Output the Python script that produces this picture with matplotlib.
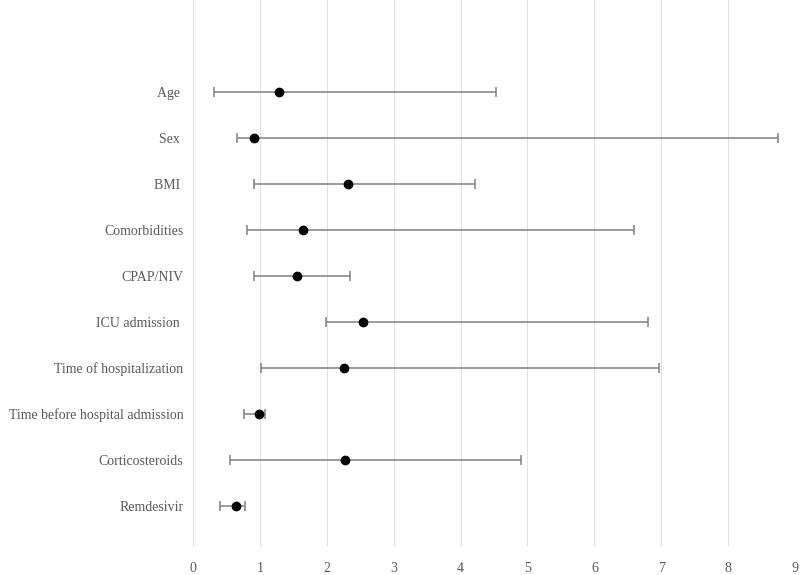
import matplotlib
matplotlib.use("Agg")
import matplotlib.pyplot as plt
import numpy as np

categories = ["Age ", "Sex ", "BMI ", "Comorbidities", "CPAP/NIV", "ICU admission ",
              "Time of hospitalization", "Time before hospital admission",
              "Corticosteroids", "Remdesivir"]
estimate = [1.29, 0.91, 2.32, 1.65, 1.55, 2.54, 2.25, 0.98, 2.27, 0.64]
lower = [0.32, 0.66, 0.91, 0.81, 0.91, 1.99, 1.02, 0.76, 0.55, 0.41]
upper = [4.53, 8.74, 4.21, 6.59, 2.34, 6.80, 6.97, 1.08, 4.90, 0.78]
xticks = [0, 1, 2, 3, 4, 5, 6, 7, 8, 9]

plt.rcParams['font.family'] = ['Liberation Serif', 'DejaVu Serif']

fig = plt.figure(figsize=(8, 5.75), dpi=100)
ax = fig.add_axes([193/800, 1 - 547/575, (795 - 193)/800, 547/575])

n = len(categories)
y = np.arange(n, 0, -1)
est = np.array(estimate)
err = np.vstack([est - np.array(lower), np.array(upper) - est])

ax.errorbar(est, y, xerr=err, fmt='o', color='black', markersize=6,
            ecolor='#808080', elinewidth=1.1, capsize=3.5, capthick=1.1, zorder=3)

ax.set_xlim(0, 9)
ax.set_ylim(0.11, 12.0)
ax.set_xticks(xticks)
ax.set_xticklabels([str(t) for t in xticks])
ax.set_yticks(y)
ax.set_yticklabels(categories)
ax.tick_params(axis='both', length=0, colors='#595959', labelsize=10)
ax.tick_params(axis='x', pad=11)
ax.tick_params(axis='y', pad=7)
ax.grid(axis='x', color='#e3e3e3', linewidth=0.8)
ax.set_axisbelow(True)
for s in ax.spines.values():
    s.set_visible(False)

fig.savefig("out.png", dpi=100)
